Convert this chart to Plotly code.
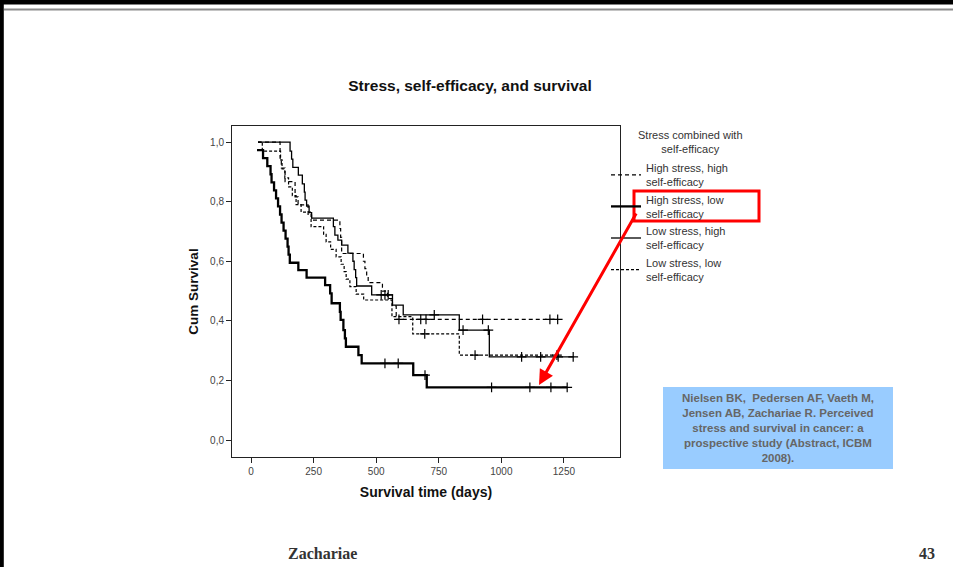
import plotly.graph_objects as go

# ---------------- data ----------------
# High stress, high self-efficacy (dashed)
hs_hse_t = [28, 116, 121, 136, 176, 188, 228, 242, 355, 358, 362, 449, 455, 462, 468, 525, 545, 565, 580, 1225]
hs_hse_s = [1.0, 0.946, 0.913, 0.867, 0.816, 0.789, 0.755, 0.738, 0.710, 0.680, 0.626, 0.600, 0.575, 0.550, 0.528, 0.500, 0.475, 0.450, 0.405, 0.405]
hs_hse_cens = [591, 678, 699, 925, 1194, 1225]

# High stress, low self-efficacy (thick solid)
hs_lse_t = [24, 48, 65, 78, 82, 92, 100, 108, 116, 122, 130, 138, 146, 150, 155, 189, 222, 296, 316, 322, 355, 358, 369, 375, 379, 429, 442, 648, 702, 1263]
hs_lse_s = [0.973, 0.946, 0.919, 0.892, 0.865, 0.838, 0.811, 0.784, 0.757, 0.730, 0.703, 0.676, 0.649, 0.622, 0.595, 0.570, 0.545, 0.520, 0.492, 0.459, 0.430, 0.403, 0.369, 0.341, 0.313, 0.285, 0.257, 0.218, 0.177, 0.177]
hs_lse_cens = [535, 588, 695, 961, 1114, 1198, 1263]

# Low stress, high self-efficacy (thin solid)
ls_hse_t = [28, 156, 162, 167, 189, 205, 213, 216, 222, 232, 242, 329, 335, 347, 362, 387, 407, 412, 418, 422, 482, 565, 608, 832, 952, 1290]
ls_hse_s = [1.0, 0.970, 0.943, 0.915, 0.889, 0.860, 0.832, 0.805, 0.785, 0.763, 0.745, 0.716, 0.688, 0.671, 0.654, 0.627, 0.600, 0.572, 0.545, 0.517, 0.487, 0.453, 0.420, 0.369, 0.279, 0.279]
ls_hse_cens = [520, 535, 548, 732, 847, 948, 1081, 1157, 1227, 1287]

# Low stress, low self-efficacy (dotted)
ls_lse_t = [28, 45, 118, 124, 135, 150, 165, 180, 200, 240, 290, 300, 318, 340, 360, 372, 380, 395, 420, 450, 563, 646, 832, 1222]
ls_lse_s = [1.0, 0.970, 0.940, 0.910, 0.880, 0.850, 0.820, 0.790, 0.765, 0.716, 0.690, 0.665, 0.640, 0.615, 0.590, 0.565, 0.540, 0.515, 0.490, 0.470, 0.414, 0.356, 0.285, 0.285]
ls_lse_cens = [694, 895, 1222]

x_ticks = [0, 250, 500, 750, 1000, 1250]
y_ticks = [0.0, 0.2, 0.4, 0.6, 0.8, 1.0]
y_ticklabels = ["0,0", "0,2", "0,4", "0,6", "0,8", "1,0"]

series = [
    ("High stress, high<br>self-efficacy", hs_hse_t, hs_hse_s, hs_hse_cens, dict(width=1.2, dash="4px,3px")),
    ("High stress, low<br>self-efficacy", hs_lse_t, hs_lse_s, hs_lse_cens, dict(width=2.3)),
    ("Low stress, high<br>self-efficacy", ls_hse_t, ls_hse_s, ls_hse_cens, dict(width=1.3)),
    ("Low stress, low<br>self-efficacy", ls_lse_t, ls_lse_s, ls_lse_cens, dict(width=1.2, dash="3px,2px")),
]


def surv_at(ts, ss, c):
    v = ss[0]
    for t, s in zip(ts, ss):
        if t <= c:
            v = s
    return v


fig = go.Figure()
for i, (name, ts, ss, cens, lst) in enumerate(series):
    fig.add_trace(go.Scatter(
        x=ts, y=ss, mode="lines", line_shape="hv", name=name,
        line=dict(color="black", **lst), legendgroup=f"g{i}",
    ))
    fig.add_trace(go.Scatter(
        x=cens, y=[surv_at(ts, ss, c) for c in cens], mode="markers",
        marker=dict(symbol="cross-thin", size=7, line=dict(color="black", width=1.2)),
        showlegend=False, legendgroup=f"g{i}", hoverinfo="skip",
    ))

# plot area geometry (pixels) -> paper conversion helpers
L, R, T, B = 232, 620, 126, 457
W, H = R - L, B - T


def px(x):
    return (x - L) / W


def py(y):
    return (B - y) / H


font_sans = "Liberation Sans, Arial, sans-serif"
font_serif = "Liberation Serif, Times New Roman, serif"

fig.update_layout(
    width=953, height=567,
    margin=dict(l=L, r=953 - R, t=T, b=567 - B),
    paper_bgcolor="white", plot_bgcolor="white",
    font=dict(family=font_sans, color="#333"),
    title=dict(text="<b>Stress, self-efficacy, and survival</b>", x=470 / 953, xanchor="center",
               xref="container", y=1 - 86 / 567, yanchor="middle", yref="container",
               font=dict(size=15.5, color="#111", family=font_sans)),
    xaxis=dict(range=[-76, 1474], tickvals=x_ticks, ticks="outside", ticklen=5, tickcolor="#222",
               showline=True, mirror=True, linecolor="#222", linewidth=1, showgrid=False, zeroline=False,
               tickfont=dict(size=10, color="#444"),
               title=dict(text="<b>Survival time (days)</b>", font=dict(size=14, color="#111"), standoff=11)),
    yaxis=dict(range=[-0.057, 1.054], tickvals=y_ticks, ticktext=y_ticklabels, ticks="outside", ticklen=5,
               tickcolor="#222", showline=True, mirror=True, linecolor="#222", linewidth=1,
               showgrid=False, zeroline=False, tickfont=dict(size=10, color="#444"),
               title=dict(text="<b>Cum Survival</b>", font=dict(size=13.5, color="#111"), standoff=8)),
    legend=dict(x=px(606), y=py(154), xanchor="left", yanchor="top", bgcolor="rgba(0,0,0,0)",
                font=dict(size=11, color="#333"), tracegroupgap=0, itemwidth=30),
    showlegend=True,
)

shapes = [
    # slide decoration: top bar, thin grey rule, left bar
    dict(type="rect", xref="paper", yref="paper", x0=px(-5), x1=px(960), y0=py(4.5), y1=py(-5),
         fillcolor="black", line=dict(width=0), layer="above"),
    dict(type="line", xref="paper", yref="paper", x0=px(4), x1=px(960), y0=py(9.5), y1=py(9.5),
         line=dict(color="#8a8a8a", width=2)),
    dict(type="rect", xref="paper", yref="paper", x0=px(-5), x1=px(3.8), y0=py(575), y1=py(-5),
         fillcolor="black", line=dict(width=0), layer="above"),
    # red highlight box
    dict(type="rect", xref="paper", yref="paper", x0=px(634), x1=px(759), y0=py(221), y1=py(191),
         line=dict(color="#ff0000", width=3), fillcolor="rgba(0,0,0,0)"),
    # blue citation box
    dict(type="rect", xref="paper", yref="paper", x0=px(663), x1=px(893), y0=py(469), y1=py(387),
         fillcolor="#99ccff", line=dict(width=0), layer="below"),
]
fig.update_layout(shapes=shapes)

annotations = [
    dict(x=px(690), y=py(141.5), xref="paper", yref="paper", showarrow=False, align="center",
         xanchor="center", yanchor="middle", text="Stress combined with<br>self-efficacy",
         font=dict(size=11, color="#333", family=font_sans)),
    dict(x=px(539), y=py(385), xref="paper", yref="paper", text="", showarrow=True,
         ax=98, ay=-173, arrowhead=2, arrowsize=1, arrowwidth=3, arrowcolor="#ff0000"),
    dict(x=px(778), y=py(428), xref="paper", yref="paper", showarrow=False, align="center",
         xanchor="center", yanchor="middle",
         text="<b>Nielsen BK,  Pedersen AF, Vaeth M,<br>Jensen AB, Zachariae R. Perceived<br>"
              "stress and survival in cancer: a<br>prospective study (Abstract, ICBM<br>2008).</b>",
         font=dict(size=11.5, color="#666", family=font_sans)),
    dict(x=px(322), y=py(553), xref="paper", yref="paper", showarrow=False, text="<b>Zachariae</b>",
         xanchor="center", yanchor="middle",
         font=dict(size=16, color="#333", family=font_serif)),
    dict(x=px(927), y=py(553), xref="paper", yref="paper", showarrow=False, text="<b>43</b>",
         xanchor="center", yanchor="middle",
         font=dict(size=16, color="#333", family=font_serif)),
]
fig.update_layout(annotations=annotations)

fig.write_html("out.html")
